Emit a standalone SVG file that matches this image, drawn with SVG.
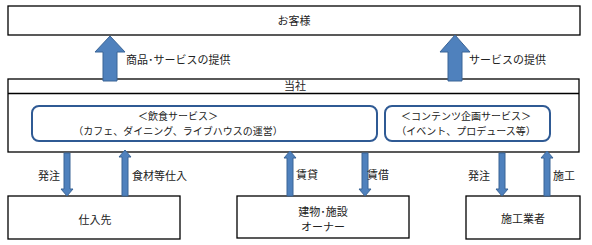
<svg xmlns="http://www.w3.org/2000/svg" width="592" height="245" viewBox="0 0 592 245">
<style>
.box{fill:#fff;stroke:#000;stroke-width:1.3}
.rbox{fill:#fff;stroke:#2F5A94;stroke-width:2}
.arr{fill:#4F81BD;stroke:#3A6496;stroke-width:1}
text{font-family:"Noto Sans CJK JP","Noto Sans CJK SC",sans-serif;fill:#222;font-size:11px}
.s{font-size:10px}
.m{text-anchor:middle}
</style>
<rect width="592" height="245" fill="#fff"/>
<g id="customer">
<rect class="box" x="8" y="6" width="572" height="29"/>
<text class="m" x="294" y="25">お客様</text>
</g>
<g id="company">
<rect class="box" x="8" y="79" width="571" height="73"/>
<line x1="8" y1="93.5" x2="579" y2="93.5" stroke="#000" stroke-width="1.3"/>
<text class="m" x="295" y="90">当社</text>
</g>
<g id="food">
<rect class="rbox" x="32" y="106" width="345" height="35" rx="7"/>
<text class="m s" x="178" y="120">＜飲食サービス＞</text>
<text class="m s" x="178" y="135">（カフェ、ダイニング、ライブハウスの運営）</text>
</g>
<g id="contents">
<rect class="rbox" x="385" y="106" width="165" height="35" rx="7"/>
<text class="m s" x="466" y="120">＜コンテンツ企画サービス＞</text>
<text class="m s" x="466" y="135">（イベント、プロデュース等）</text>
</g>
<g id="supplier">
<rect class="box" x="8" y="196" width="172" height="43"/>
<text class="m" x="95" y="224">仕入先</text>
</g>
<g id="owner">
<rect class="box" x="237" y="196" width="172" height="42"/>
<text class="m" x="323" y="216">建物･施設</text>
<text class="m" x="323" y="231">オーナー</text>
</g>
<g id="contractor">
<rect class="box" x="466" y="196" width="114" height="43"/>
<text class="m" x="523" y="223">施工業者</text>
</g>
<g id="connectors">
<polygon class="arr" points="110,36 95,52 103,52 103,81 117,81 117,52 125,52"/>
<text x="126" y="64">商品･サービスの提供</text>
<polygon class="arr" points="455,35 440,52 448,52 448,81 462,81 462,52 470,52"/>
<text x="469" y="64">サービスの提供</text>
<polygon class="arr" points="64,153 70,153 70,189 73,189 67,196 61,189 64,189"/>
<text x="38" y="180">発注</text>
<polygon class="arr" points="125,150 131,157 128,157 128,196 122,196 122,157 119,157"/>
<text x="132" y="180">食材等仕入</text>
<polygon class="arr" points="290,151 296,158 293,158 293,196 287,196 287,158 284,158"/>
<text x="296" y="179">賃貸</text>
<polygon class="arr" points="362,153 368,153 368,189 371,189 365,196 359,189 362,189"/>
<text x="367" y="179">賃借</text>
<polygon class="arr" points="499,153 505,153 505,189 508,189 502,196 496,189 499,189"/>
<text x="468" y="180">発注</text>
<polygon class="arr" points="547,151 553,158 550,158 550,196 544,196 544,158 541,158"/>
<text x="553" y="180">施工</text>
</g>
</svg>
